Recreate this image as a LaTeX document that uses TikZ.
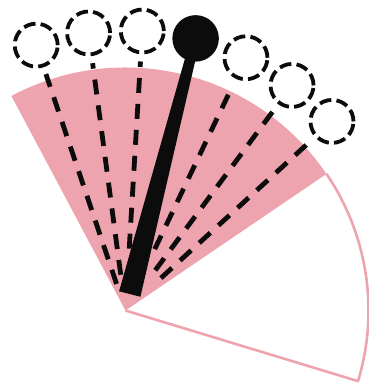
\documentclass[tikz,border=0pt]{standalone}
\usetikzlibrary{calc}
\definecolor{pinkfill}{RGB}{238,164,174}
\definecolor{inkblack}{RGB}{12,12,12}
\tikzset{
  dcirc/.style={circle, draw=inkblack, line width=3.8pt, minimum size=43pt, inner sep=0pt, outer sep=0pt, dash pattern=on 12pt off 5.2pt},
  dline/.style={draw=inkblack, line width=4.8pt, dash pattern=on 15pt off 11pt},
  ballnode/.style={circle, fill=inkblack, minimum size=46.5pt, inner sep=0pt, outer sep=0pt}
}
\begin{document}
\begin{tikzpicture}[x=1pt,y=1pt]
\useasboundingbox (0,0) rectangle (368,388);
\coordinate (S) at (125.5,77.5);
% pink part of the sector
\fill[pinkfill] (S) -- ++(118:243) arc[start angle=118, end angle=34.2, radius=243] -- cycle;
% white part outlined in pink
\draw[pinkfill, line width=2.6pt, line join=round] (S) -- ++(-16.9:243) arc[start angle=-16.9, end angle=34.2, radius=243];
% dashed circles and lines
\foreach \k/\e in {0/28,1/36,2/62,4/68,5/50,6/48} {
  \pgfmathsetmacro\ang{108.6-11.02*\k}
  \node[dcirc] (c\k) at ($(S)+(\ang:280)$) {};
  \draw[dline, shorten <=\e pt, shorten >=9pt] (S) -- (c\k);
}
% ball and rod
\node[ballnode] (ball) at ($(S)+(75.55:281)$) {};
\fill[inkblack] ($(S)+(75.55:17)+(165.55:11)$) -- ($(S)+(75.55:17)+(-14.45:11)$)
   -- ($(S)+(75.55:262)+(-14.45:5.2)$) -- ($(S)+(75.55:262)+(165.55:5.2)$) -- cycle;
\end{tikzpicture}
\end{document}
